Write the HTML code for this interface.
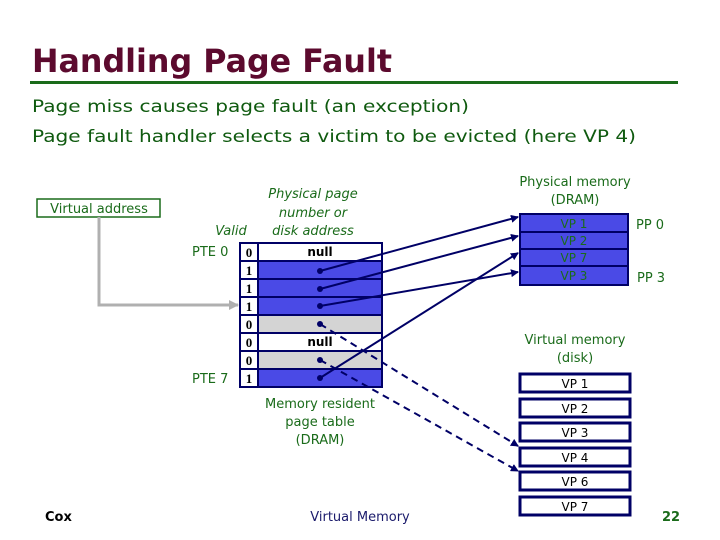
<!DOCTYPE html>
<html><head><style>html,body{margin:0;padding:0;background:#fff}svg{display:block}</style></head><body>
<svg width="720" height="540" viewBox="0 0 720 540" xmlns="http://www.w3.org/2000/svg" font-family="DejaVu Sans, Liberation Sans, sans-serif">
<defs>
<marker id="a" markerWidth="8" markerHeight="8" refX="7" refY="4" orient="auto" markerUnits="userSpaceOnUse"><path d="M0,0 L8,4 L0,8 z" fill="#000066"/></marker>
<marker id="g" markerWidth="10" markerHeight="10" refX="9" refY="5" orient="auto" markerUnits="userSpaceOnUse"><path d="M0,0 L10,5 L0,10 z" fill="#b0b0b0"/></marker>
</defs>
<text x="32" y="72" font-size="32" font-weight="bold" fill="#5c0a2e" textLength="360" lengthAdjust="spacingAndGlyphs">Handling Page Fault</text>
<rect x="30" y="81" width="648" height="3" fill="#1a6b1a"/>
<g fill="#0f5a0f" font-size="17">
<text x="32" y="112" textLength="437" lengthAdjust="spacingAndGlyphs">Page miss causes page fault (an exception)</text>
<text x="32" y="142" textLength="604" lengthAdjust="spacingAndGlyphs">Page fault handler selects a victim to be evicted (here VP 4)</text>
</g>
<!-- virtual address -->
<rect x="37" y="199" width="123" height="18" fill="#fff" stroke="#1a6b1a" stroke-width="1.5"/>
<text x="99" y="213" font-size="13" fill="#1a6b1a" text-anchor="middle">Virtual address</text>
<polyline points="99,217 99,305 238,305" fill="none" stroke="#b0b0b0" stroke-width="3" marker-end="url(#g)"/>
<!-- table labels -->
<g fill="#1a6b1a" font-size="13" font-style="italic" text-anchor="middle">
<text x="313" y="198">Physical page</text>
<text x="313" y="217">number or</text>
<text x="313" y="235">disk address</text>
<text x="231" y="235">Valid</text>
</g>
<g fill="#1a6b1a" font-size="13"><text x="192" y="256">PTE 0</text><text x="192" y="383">PTE 7</text></g>
<!-- table rows -->
<g stroke="#000066" stroke-width="2">
<rect x="240" y="243" width="142" height="18" fill="#fff"/>
<rect x="240" y="261" width="142" height="18" fill="#4a4ae6"/>
<rect x="240" y="279" width="142" height="18" fill="#4a4ae6"/>
<rect x="240" y="297" width="142" height="18" fill="#4a4ae6"/>
<rect x="240" y="315" width="142" height="18" fill="#d4d4d4"/>
<rect x="240" y="333" width="142" height="18" fill="#fff"/>
<rect x="240" y="351" width="142" height="18" fill="#d4d4d4"/>
<rect x="240" y="369" width="142" height="18" fill="#4a4ae6"/>
<rect x="240" y="243" width="18" height="144" fill="none"/>
</g>
<g fill="#fff" stroke="#000066" stroke-width="2">
<rect x="240" y="243" width="18" height="18"/><rect x="240" y="261" width="18" height="18"/><rect x="240" y="279" width="18" height="18"/><rect x="240" y="297" width="18" height="18"/><rect x="240" y="315" width="18" height="18"/><rect x="240" y="333" width="18" height="18"/><rect x="240" y="351" width="18" height="18"/><rect x="240" y="369" width="18" height="18"/>
</g>
<g font-family="Liberation Serif, serif" font-size="13" font-weight="bold" fill="#000" text-anchor="middle">
<text x="249" y="257">0</text><text x="249" y="275">1</text><text x="249" y="293">1</text><text x="249" y="311">1</text><text x="249" y="329">0</text><text x="249" y="347">0</text><text x="249" y="365">0</text><text x="249" y="383">1</text>
</g>
<g font-size="12" font-weight="bold" fill="#000" text-anchor="middle"><text x="320" y="256">null</text><text x="320" y="346">null</text></g>
<!-- connectors -->
<g stroke="#000066" stroke-width="2" fill="none">
<line x1="320" y1="271" x2="518" y2="217" marker-end="url(#a)"/>
<line x1="320" y1="289" x2="518" y2="236" marker-end="url(#a)"/>
<line x1="320" y1="306" x2="518" y2="272" marker-end="url(#a)"/>
<line x1="320" y1="378" x2="518" y2="253" marker-end="url(#a)"/>
<line x1="320" y1="324" x2="518" y2="446" stroke-dasharray="7,5" marker-end="url(#a)"/>
<line x1="320" y1="360" x2="518" y2="471" stroke-dasharray="7,5" marker-end="url(#a)"/>
</g>
<g fill="#000066"><circle cx="320" cy="271" r="3"/><circle cx="320" cy="289" r="3"/><circle cx="320" cy="306" r="3"/><circle cx="320" cy="324" r="3"/><circle cx="320" cy="360" r="3"/><circle cx="320" cy="378" r="3"/></g>
<g fill="#1a6b1a" font-size="13" text-anchor="middle">
<text x="320" y="408">Memory resident</text><text x="320" y="426">page table</text><text x="320" y="444">(DRAM)</text>
<text x="575" y="186">Physical memory</text><text x="575" y="204">(DRAM)</text>
<text x="575" y="344">Virtual memory</text><text x="575" y="362">(disk)</text>
</g>
<!-- DRAM -->
<g stroke="#000066" stroke-width="2" fill="#4a4ae6">
<rect x="520" y="214" width="108" height="18"/><rect x="520" y="232" width="108" height="17"/><rect x="520" y="249" width="108" height="17"/><rect x="520" y="266" width="108" height="19"/>
</g>
<g fill="#1a6b1a" font-size="12" text-anchor="middle"><text x="574" y="228">VP 1</text><text x="574" y="245">VP 2</text><text x="574" y="262">VP 7</text><text x="574" y="280">VP 3</text></g>
<g fill="#1a6b1a" font-size="13"><text x="636" y="229">PP 0</text><text x="637" y="282">PP 3</text></g>
<!-- disk -->
<g stroke="#000066" stroke-width="3" fill="#fff">
<rect x="520" y="374" width="110" height="18"/><rect x="520" y="399" width="110" height="18"/><rect x="520" y="423" width="110" height="18"/><rect x="520" y="448" width="110" height="18"/><rect x="520" y="472" width="110" height="18"/><rect x="520" y="497" width="110" height="18"/>
</g>
<g fill="#000" font-size="12" text-anchor="middle"><text x="575" y="388">VP 1</text><text x="575" y="413">VP 2</text><text x="575" y="437">VP 3</text><text x="575" y="462">VP 4</text><text x="575" y="486">VP 6</text><text x="575" y="511">VP 7</text></g>
<g font-size="13" font-weight="bold"><text x="45" y="521" fill="#000">Cox</text><text x="360" y="521" fill="#1a1a6b" text-anchor="middle" font-weight="normal">Virtual Memory</text><text x="662" y="521" fill="#1a6b1a">22</text></g>
</svg>
</body></html>
